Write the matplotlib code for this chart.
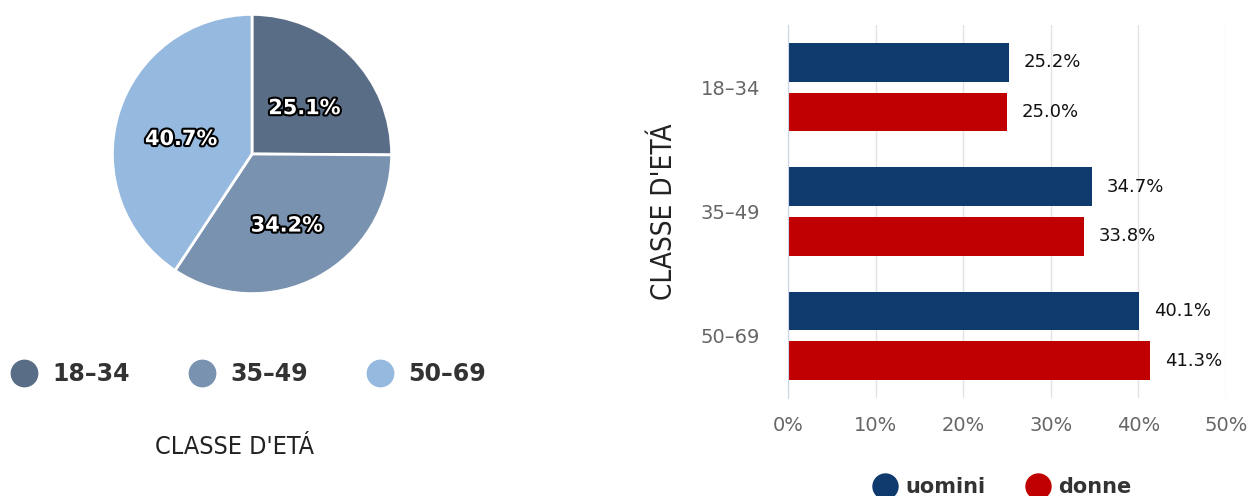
import matplotlib.pyplot as plt
import matplotlib.patheffects as pe
from matplotlib.lines import Line2D
import numpy as np

# Data
age_classes = ["18–34", "35–49", "50–69"]
pie_shares = [25.1, 34.2, 40.7]
pie_colors = ["#596e86", "#7892b0", "#96b9df"]

men = [25.2, 34.7, 40.1]
women = [25.0, 33.8, 41.3]
x_ticks = [0, 10, 20, 30, 40, 50]
x_tick_labels = ["0%", "10%", "20%", "30%", "40%", "50%"]

navy = "#0e3a6e"
red = "#c00000"
narrow = dict(family=["DejaVu Sans"], stretch="condensed", weight="light")

fig = plt.figure(figsize=(12.51, 4.96), dpi=100)

# Pie on the left
W, H = 1251, 496
cx, cy, r = 252, 154, 141
ax_pie = fig.add_axes([(cx - r) / W, 1 - (cy + r) / H, 2 * r / W, 2 * r / H])
wedges, texts, autotexts = ax_pie.pie(
    pie_shares, colors=pie_colors, startangle=90, counterclock=False,
    autopct=lambda p: "%.1f%%" % p, pctdistance=0.53,
    wedgeprops=dict(edgecolor="white", linewidth=2))
for t in autotexts:
    t.set_color("white")
    t.set_fontsize(15)
    t.set_fontweight("bold")
    t.set_path_effects([pe.withStroke(linewidth=3, foreground="black")])
    tx, ty = t.get_position()
    t.set_position((tx, ty - 0.045))  # nudge down a bit
ax_pie.set_xlim(-1.01, 1.01)
ax_pie.set_ylim(-1.01, 1.01)
ax_pie.set_aspect("equal")

pie_handles = [Line2D([], [], marker="o", linestyle="", markersize=19,
                      markerfacecolor=c, markeredgecolor=c) for c in pie_colors]
leg = fig.legend(pie_handles, age_classes, loc="center left",
                 bbox_to_anchor=(10 / W, 1 - 374 / H), ncol=3, frameon=False,
                 borderpad=0, borderaxespad=0,
                 handletextpad=0.6, columnspacing=2.45, handlelength=1.2,
                 prop=dict(size=17, weight="bold"))
for t in leg.get_texts():
    t.set_color("#333333")

fig.text(235 / W, 1 - 447 / H, "CLASSE D'ETÁ", ha="center", va="center",
         fontsize=18, color="#222222", **narrow)

# Bars on the right
ax = fig.add_axes([788 / W, 1 - 398 / H, 438 / W, 373 / H])
y = np.arange(len(age_classes))
h = 0.31
ax.barh(y - 0.2, men, height=h, color=navy, label="uomini")
ax.barh(y + 0.2, women, height=h, color=red, label="donne")
for yi, v in zip(y, men):
    ax.text(v + 1.7, yi - 0.2, "%.1f%%" % v, va="center", ha="left",
            fontsize=13, color="#111111")
for yi, v in zip(y, women):
    ax.text(v + 1.7, yi + 0.2, "%.1f%%" % v, va="center", ha="left",
            fontsize=13, color="#111111")

ax.set_ylim(2.5, -0.5)
ax.set_xlim(0, 50)
ax.set_yticks(y)
ax.set_yticklabels(age_classes, fontsize=14, color="#666666")
ax.set_xticks(x_ticks)
ax.set_xticklabels(x_tick_labels, fontsize=14, color="#666666")
ax.tick_params(length=0)
ax.tick_params(axis="x", pad=13)
ax.tick_params(axis="y", pad=20)
ax.grid(axis="x", color="#e3e3e3", linewidth=1)
ax.set_axisbelow(True)
for s in ["top", "right", "bottom"]:
    ax.spines[s].set_visible(False)
ax.spines["left"].set_color("#ccd6eb")
ax.set_ylabel("CLASSE D'ETÁ", fontsize=20, color="#222222", labelpad=16,
              **narrow)

bar_handles = [Line2D([], [], marker="o", linestyle="", markersize=18,
                      markerfacecolor=c, markeredgecolor=c) for c in [navy, red]]
leg2 = fig.legend(bar_handles, ["uomini", "donne"], loc="center",
                  bbox_to_anchor=(1003 / W, 1 - 487 / H), ncol=2, frameon=False,
                  handletextpad=0.5, columnspacing=2.0, handlelength=1.0,
                  prop=dict(size=15, weight="bold"))
for t in leg2.get_texts():
    t.set_color("#333333")

fig.savefig("out.png", dpi=100)
